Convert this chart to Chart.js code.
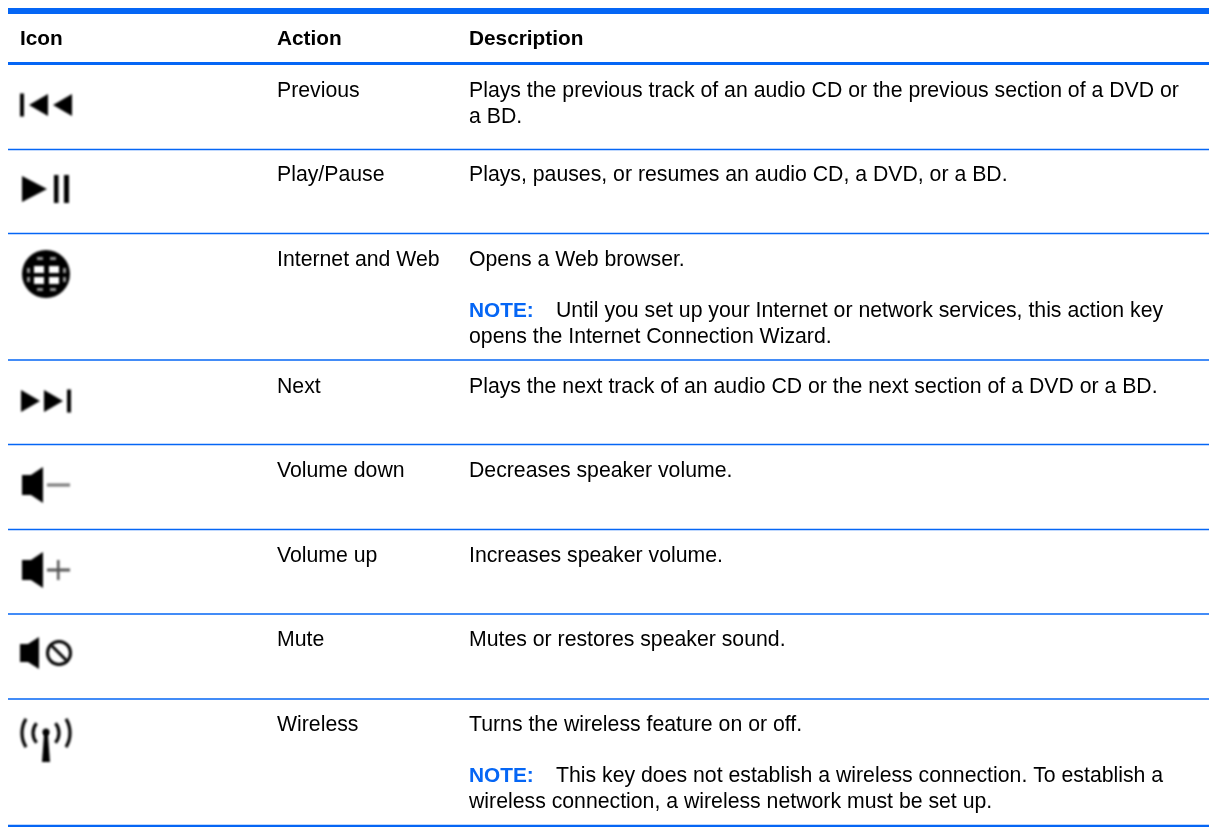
<!DOCTYPE html>
<html>
<head>
<meta charset="utf-8">
<style>
    html, body { margin: 0; padding: 0; background: #fff; }
    #wrap { width: 1211px; height: 827px; }
</style>
<script src="https://cdn.jsdelivr.net/npm/chart.js@4"></script>
</head>
<body>
<div id="wrap"><canvas id="tableChart"></canvas></div>
<script>
/* --- Contenu du tableau --- */
const headers = ['Icon', 'Action', 'Description'];
const actions = ['Previous', 'Play/Pause', 'Internet and Web', 'Next', 'Volume down', 'Volume up', 'Mute', 'Wireless'];
const iconNames = ['prev', 'play', 'globe', 'next', 'down', 'up', 'mute', 'wireless'];
const descriptions = [
    ['Plays the previous track of an audio CD or the previous section of a DVD or', 'a BD.'],
    ['Plays, pauses, or resumes an audio CD, a DVD, or a BD.'],
    ['Opens a Web browser.'],
    ['Plays the next track of an audio CD or the next section of a DVD or a BD.'],
    ['Decreases speaker volume.'],
    ['Increases speaker volume.'],
    ['Mutes or restores speaker sound.'],
    ['Turns the wireless feature on or off.']
];
const noteLabel = 'NOTE:';
const noteRows = [2, 7];
const noteLines = [
    ['Until you set up your Internet or network services, this action key', 'opens the Internet Connection Wizard.'],
    ['This key does not establish a wireless connection. To establish a', 'wireless connection, a wireless network must be set up.']
];

/* --- Repères --- */
const columnX = [20, 277, 469];
const noteTextX = 556;
const ruleLeft = 8;
const ruleRight = 1209;
const headerBaseline = 45;
const ruleY = [11, 63.5, 149.5, 233.5, 360, 444.5, 529.5, 614, 699, 826];
const ruleWidth = [6, 3, 1.5, 1.5, 1.5, 1.5, 1.5, 1.5, 1.5, 2.5];
const rowBaseline = [97, 181, 266, 393, 477, 562, 646, 731];
const noteBaseline = [317, 782];
const iconX = 46;
const iconY = [105, 189, 274, 401, 485, 570, 653, 740];

const BLUE = '#0566f5';
const FONT = '"Liberation Sans", Arial, sans-serif';
const TEXT_PX = 21.25;
const BOLD_PX = 20.8;
const LINE_STEP = 25.5;

/* --- Icônes (dessinées en coordonnées locales, centre = point) --- */
const drawTri = (c, xBase, xTip, h) => {
    c.beginPath(); c.moveTo(xBase, -h); c.lineTo(xTip, 0); c.lineTo(xBase, h); c.closePath(); c.fill();
};
const drawSpeaker = (c, x0, x1, x2, hBody, hCone) => {
    c.beginPath();
    c.moveTo(x0, -hBody); c.lineTo(x1, -hBody); c.lineTo(x2, -hCone);
    c.lineTo(x2, hCone); c.lineTo(x1, hBody); c.lineTo(x0, hBody);
    c.closePath(); c.fill();
};
const iconPainters = {
    prev(c) {
        c.fillRect(-26, -11.5, 4, 23);
        drawTri(c, 2, -17, 11);
        drawTri(c, 26, 7, 11);
    },
    play(c) {
        drawTri(c, -24, 1, 13);
        c.fillRect(8, -14, 4.5, 28);
        c.fillRect(18, -14, 5, 28);
    },
    globe(c) {
        c.beginPath(); c.arc(0, 0, 24, 0, Math.PI * 2); c.fill();
        c.fillStyle = '#fff';
        [[-12, -8, 10, 7], [3, -8, 10, 7], [-12, 3, 10, 7], [3, 3, 10, 7]].forEach(r => c.fillRect(...r));
        c.fillStyle = '#999';
        [[-19, -6, 3, 5], [17, -6, 3, 5], [-19, 3, 3, 5], [17, 3, 3, 5],
         [-9, -17, 6, 3], [4, -17, 6, 3], [-9, 14, 6, 3], [4, 14, 6, 3]].forEach(r => c.fillRect(...r));
    },
    next(c) {
        drawTri(c, -25, -6, 11);
        drawTri(c, -2, 17, 11);
        c.fillRect(21, -11.5, 4, 23);
    },
    down(c) {
        drawSpeaker(c, -24, -15, -3, 10, 18);
        c.fillStyle = '#777'; c.fillRect(1, -1.5, 23, 3);
    },
    up(c) {
        drawSpeaker(c, -24, -15, -3, 10, 18);
        c.fillStyle = '#555'; c.fillRect(1, -1.5, 23, 3); c.fillRect(11, -10, 2.5, 20);
    },
    mute(c) {
        drawSpeaker(c, -26, -18, -7, 9, 16);
        c.lineWidth = 3;
        c.beginPath(); c.arc(13, 0, 11.5, 0, Math.PI * 2); c.stroke();
        c.beginPath(); c.moveTo(5, -8); c.lineTo(21, 8); c.stroke();
    },
    wireless(c) {
        c.beginPath(); c.arc(0, -8, 3.5, 0, Math.PI * 2); c.fill();
        c.beginPath(); c.moveTo(-1.8, -8); c.lineTo(1.8, -8); c.lineTo(4, 22); c.lineTo(-4, 22); c.closePath(); c.fill();
        c.lineWidth = 3.2;
        c.beginPath(); c.arc(3, -7, 27, Math.PI - 0.55, Math.PI + 0.55); c.stroke();
        c.beginPath(); c.arc(2, -7, 15, Math.PI - 0.7, Math.PI + 0.7); c.stroke();
        c.beginPath(); c.arc(-3, -7, 27, -0.55, 0.55); c.stroke();
        c.beginPath(); c.arc(-2, -7, 15, -0.7, 0.7); c.stroke();
    }
};

function makeIcon(name) {
    const el = document.createElement('canvas');
    el.width = 70; el.height = 70;
    const c = el.getContext('2d');
    c.filter = 'blur(0.9px)';
    c.translate(35, 35);
    c.fillStyle = '#000';
    c.strokeStyle = '#000';
    iconPainters[name](c);
    return el;
}

/* --- Textes posés via les échelles du graphique --- */
const tableText = {
    id: 'tableText',
    afterDatasetsDraw(chart) {
        const { ctx, scales: { x, y } } = chart;
        const put = (str, vx, vy, font, color) => {
            ctx.font = font;
            ctx.fillStyle = color;
            ctx.fillText(str, x.getPixelForValue(vx), y.getPixelForValue(vy));
        };
        const regular = `${TEXT_PX}px ${FONT}`;
        const bold = `bold ${BOLD_PX}px ${FONT}`;
        ctx.save();
        ctx.filter = 'blur(0.35px)';
        ctx.textBaseline = 'alphabetic';
        ctx.textAlign = 'left';
        headers.forEach((h, i) => put(h, columnX[i], headerBaseline, bold, '#000'));
        actions.forEach((a, i) => {
            put(a, columnX[1], rowBaseline[i], regular, '#000');
            descriptions[i].forEach((line, j) => put(line, columnX[2], rowBaseline[i] + j * LINE_STEP, regular, '#000'));
        });
        noteRows.forEach((row, n) => {
            put(noteLabel, columnX[2], noteBaseline[n], bold, BLUE);
            put(noteLines[n][0], noteTextX, noteBaseline[n], regular, '#000');
            put(noteLines[n][1], columnX[2], noteBaseline[n] + LINE_STEP, regular, '#000');
        });
        ctx.restore();
    }
};

const ruleDatasets = ruleY.map((yv, i) => ({
    type: 'line',
    data: [{ x: ruleLeft, y: yv }, { x: ruleRight, y: yv }],
    borderColor: BLUE,
    borderWidth: ruleWidth[i],
    borderCapStyle: 'butt',
    pointRadius: 0,
    tension: 0
}));

new Chart(document.getElementById('tableChart').getContext('2d'), {
    type: 'scatter',
    data: {
        datasets: [
            ...ruleDatasets,
            {
                data: iconY.map(yv => ({ x: iconX, y: yv })),
                pointStyle: iconNames.map(makeIcon),
                pointRadius: 35,
                showLine: false
            }
        ]
    },
    options: {
        animation: false,
        responsive: true,
        maintainAspectRatio: false,
        layout: { padding: 0, autoPadding: false },
        plugins: { legend: { display: false }, tooltip: { enabled: false } },
        scales: {
            x: { type: 'linear', min: 0, max: 1211, display: false },
            y: { type: 'linear', min: 0, max: 827, reverse: true, display: false }
        }
    },
    plugins: [tableText]
});
</script>
</body>
</html>
